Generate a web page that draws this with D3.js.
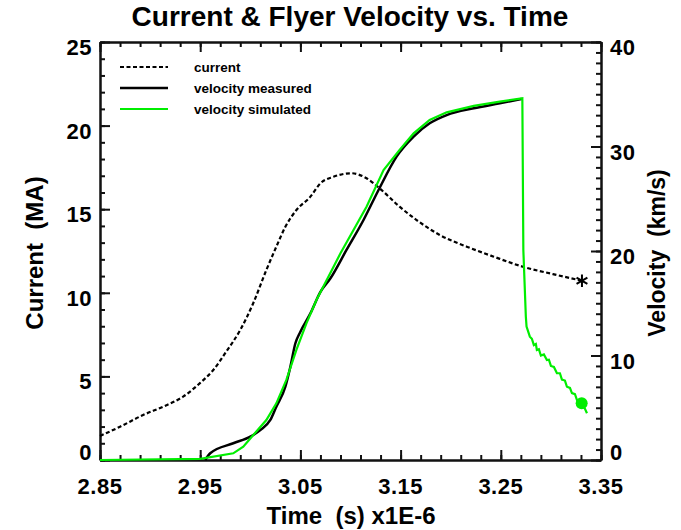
<!DOCTYPE html>
<html>
<head>
<meta charset="utf-8">
<script src="https://cdn.jsdelivr.net/npm/d3@7"></script>
<style>
  body { margin: 0; background: #fff; }
  svg text { font-family: "Liberation Sans", Arial, Helvetica, sans-serif; font-weight: bold; }
</style>
</head>
<body>
<svg id="chart" width="681" height="530"></svg>
<script>
// time in microseconds (x1E-6 s)
const currentTime = [2.850, 2.870, 2.893, 2.913, 2.933, 2.950, 2.963, 2.976, 2.990, 3.003, 3.016, 3.026,
    3.035, 3.046, 3.060, 3.070, 3.083, 3.101, 3.116, 3.129, 3.149, 3.166, 3.189, 3.216, 3.243, 3.272, 3.302, 3.331];
const currentMA = [1.44, 1.99, 2.69, 3.19, 3.79, 4.61, 5.38, 6.48, 7.78, 9.39, 11.36, 12.76,
    13.95, 14.95, 15.75, 16.55, 16.94, 17.15, 16.85, 16.25, 15.15, 14.35, 13.46, 12.76, 12.16, 11.56, 11.12, 10.72];

const measTime = [2.955, 2.960, 2.983, 3.000, 3.010, 3.020, 3.026, 3.035, 3.040, 3.045, 3.050, 3.060,
    3.070, 3.080, 3.096, 3.113, 3.128, 3.146, 3.163, 3.179, 3.196, 3.223, 3.249, 3.271];
const measVel = [0.0, 0.64, 1.6, 2.23, 2.87, 3.83, 5.1, 7.02, 8.93, 11.17, 12.28, 14.04,
    16.1, 17.39, 20.1, 22.97, 25.84, 29.03, 30.94, 32.22, 33.01, 33.66, 34.13, 34.55];

const simTime = [2.850, 2.950, 2.983, 2.993, 3.003, 3.016, 3.026, 3.036, 3.046, 3.056, 3.066, 3.090,
    3.116, 3.133, 3.149, 3.163, 3.179, 3.196, 3.223, 3.249, 3.2715, 3.2725, 3.275, 3.2757, 3.279,
    3.281, 3.283, 3.285, 3.286, 3.288, 3.290, 3.293, 3.296, 3.298, 3.300, 3.303, 3.306, 3.309,
    3.311, 3.314, 3.316, 3.319, 3.321, 3.324, 3.326, 3.329, 3.331, 3.334, 3.336];
const simVel = [0.0, 0.1, 0.64, 1.27, 2.39, 3.83, 5.42, 7.66, 10.53, 13.08, 15.31, 19.78,
    24.24, 27.75, 29.67, 31.26, 32.54, 33.27, 33.88, 34.29, 34.61, 20.1, 13.71, 12.76, 11.8,
    11.6, 11.0, 11.1, 10.53, 10.6, 10.0, 10.1, 9.57, 9.6, 9.0, 8.9, 8.3, 8.3, 7.7,
    7.6, 7.01, 6.9, 6.4, 6.3, 5.74, 5.6, 5.2, 4.9, 4.47];

const endMarkerTime = 3.3307, endMarkerVel = 5.43;

const xTicks = [2.85, 2.95, 3.05, 3.15, 3.25, 3.35];
const currentTicks = [0, 5, 10, 15, 20, 25];
const velTicks = [0, 10, 20, 30, 40];

const legendItems = ['current', 'velocity measured', 'velocity simulated'];

const svg = d3.select('#chart');
const plotLeft = 100, plotRight = 601, plotTop = 42, plotBottom = 460;

const x = d3.scaleLinear().domain([2.85, 3.35]).range([plotLeft, plotRight]);
const yCur = d3.scaleLinear().domain([0, 25]).range([plotBottom, plotTop]);
const yVel = d3.scaleLinear().domain([0, 40]).range([plotBottom, plotTop]);

const xMinor = d3.range(0, 26).map(i => +(2.85 + i * 0.02).toFixed(2));
const curMinor = d3.range(0, 26);
const velMinor = d3.range(0, 41);

// box axes, IDL style: ticks point inward on all four sides
function drawAxis(axisFn, scale, pos, majors, minors) {
    [[minors, 5], [majors, 10]].forEach(([vals, len]) => {
        const g = svg.append('g').attr('class', 'frame').attr('transform', pos)
            .call(axisFn(scale).tickValues(vals).tickSizeInner(-len).tickSizeOuter(0).tickFormat(''));
        g.selectAll('text').remove();
        g.selectAll('path.domain, line')
            .style('stroke', '#111')
            .style('stroke-width', '2px')
            .style('fill', 'none');
    });
}
drawAxis(d3.axisBottom, x, `translate(0,${plotBottom})`, xTicks, xMinor);
drawAxis(d3.axisTop, x, `translate(0,${plotTop})`, xTicks, xMinor);
drawAxis(d3.axisLeft, yCur, `translate(${plotLeft},0)`, currentTicks, curMinor);
drawAxis(d3.axisRight, yVel, `translate(${plotRight},0)`, velTicks, velMinor);

// series
const lineCur = d3.line().x((d, i) => x(currentTime[i])).y(d => yCur(d)).curve(d3.curveMonotoneX);
svg.append('path').datum(currentMA).attr('d', lineCur)
    .attr('fill', 'none').attr('stroke', 'black').attr('stroke-width', 2.2)
    .attr('stroke-dasharray', '4,2.5');

const lineMeas = d3.line().x((d, i) => x(measTime[i])).y(d => yVel(d)).curve(d3.curveMonotoneX);
svg.append('path').datum(measVel).attr('d', lineMeas)
    .attr('fill', 'none').attr('stroke', 'black').attr('stroke-width', 2.5);

const lineSim = d3.line().x((d, i) => x(simTime[i])).y(d => yVel(d));
svg.append('path').datum(simVel).attr('d', lineSim)
    .attr('fill', 'none').attr('stroke', '#00ee00').attr('stroke-width', 2.2);

svg.append('circle')
    .attr('cx', x(endMarkerTime)).attr('cy', yVel(endMarkerVel)).attr('r', 6)
    .attr('fill', '#00ee00');

svg.append('path')
    .attr('d', d3.symbol(d3.symbolAsterisk, 110)())
    .attr('transform', `translate(${x(currentTime[currentTime.length - 1])},${yCur(currentMA[currentMA.length - 1])})`)
    .attr('fill', 'none').attr('stroke', 'black').attr('stroke-width', 2);

// tick labels
const tickFont = 22;
svg.append('g').selectAll('text').data(xTicks).join('text')
    .attr('x', d => x(d)).attr('y', 494)
    .attr('text-anchor', 'middle').attr('font-size', tickFont).attr('letter-spacing', 0.5)
    .text(d => d.toFixed(2));
svg.append('g').selectAll('text').data(currentTicks).join('text')
    .attr('x', 92).attr('y', d => d === 0 ? yCur(d) : yCur(d) + 13)
    .attr('text-anchor', 'end').attr('font-size', tickFont).attr('letter-spacing', 0.5)
    .text(d => d);
svg.append('g').selectAll('text').data(velTicks).join('text')
    .attr('x', 610).attr('y', d => d === 0 ? yVel(d) : yVel(d) + 13)
    .attr('text-anchor', 'start').attr('font-size', tickFont).attr('letter-spacing', 0.5)
    .text(d => d);

// titles
svg.append('text').attr('x', 350).attr('y', 26).attr('text-anchor', 'middle')
    .attr('font-size', 28).text('Current & Flyer Velocity vs. Time');
svg.append('text').attr('x', 351).attr('y', 524).attr('text-anchor', 'middle')
    .attr('font-size', 24).attr('xml:space', 'preserve').text('Time  (s) x1E-6');
svg.append('text').attr('transform', 'translate(43,253) rotate(-90)').attr('text-anchor', 'middle')
    .attr('font-size', 24).attr('xml:space', 'preserve').text('Current  (MA)');
svg.append('text').attr('transform', 'translate(665,253) rotate(-90)').attr('text-anchor', 'middle')
    .attr('font-size', 23).attr('xml:space', 'preserve').text('Velocity  (km/s)');

// legend
const legStyles = [
    { stroke: 'black', dash: '4,2.5', w: 2.2 },
    { stroke: 'black', dash: null, w: 2.5 },
    { stroke: '#00ee00', dash: null, w: 2.2 }
];
const legY = [67, 88, 109];
legendItems.forEach((name, i) => {
    svg.append('line').attr('x1', 120).attr('x2', 168).attr('y1', legY[i]).attr('y2', legY[i])
        .attr('stroke', legStyles[i].stroke).attr('stroke-width', legStyles[i].w)
        .attr('stroke-dasharray', legStyles[i].dash);
    svg.append('text').attr('x', 194).attr('y', legY[i] + 5).attr('font-size', 13.5).text(name);
});
</script>
</body>
</html>
